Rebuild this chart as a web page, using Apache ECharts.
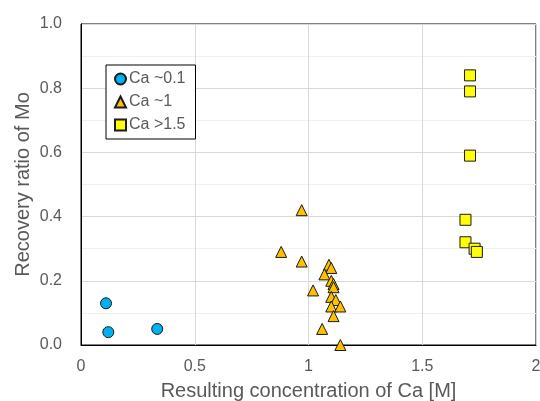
<!DOCTYPE html>
<html>
<head>
<meta charset="utf-8">
<script src="https://cdn.jsdelivr.net/npm/echarts@6/dist/echarts.min.js"></script>
<style>
  html, body { margin: 0; padding: 0; background: #fff; }
  #chart { width: 540px; height: 401px; }
</style>
</head>
<body>
<div id="chart"></div>
<script>
// Series names
const seriesNames = ['Ca ~0.1', 'Ca ~1', 'Ca >1.5'];

// Ca ~0.1 group
const lowCaX = [0.11, 0.12, 0.335];
const lowCaY = [0.13, 0.04, 0.05];

// Ca ~1 group
const midCaX = [0.97, 0.88, 0.97, 1.02, 1.09, 1.10, 1.07, 1.10, 1.11, 1.11, 1.10, 1.12, 1.10, 1.14, 1.11, 1.06, 1.14];
const midCaY = [0.42, 0.29, 0.26, 0.17, 0.25, 0.24, 0.22, 0.20, 0.19, 0.18, 0.15, 0.14, 0.12, 0.12, 0.09, 0.05, 0.00];

// Ca >1.5 group
const highCaX = [1.71, 1.71, 1.71, 1.69, 1.69, 1.73, 1.74];
const highCaY = [0.84, 0.79, 0.59, 0.39, 0.32, 0.30, 0.29];

// Axis ticks
const xTicks = [0, 0.5, 1, 1.5, 2];
const yTicks = [0.0, 0.2, 0.4, 0.6, 0.8, 1.0];

const pairs = (xs, ys) => xs.map((x, i) => [x, ys[i]]);

const textColor = '#595959';
const font = 'Liberation Sans, Arial, sans-serif';

const chart = echarts.init(document.getElementById('chart'), null, { renderer: 'canvas' });

const marker = (name, symbol, color, xs, ys) => ({
  name: name,
  type: 'scatter',
  symbol: symbol,
  symbolSize: 11,
  clip: false,
  data: pairs(xs, ys),
  itemStyle: { color: color, borderColor: '#1a1a1a', borderWidth: 1, opacity: 1 },
  emphasis: { disabled: true }
});

chart.setOption({
  animation: false,
  backgroundColor: '#ffffff',
  textStyle: { fontFamily: font },
  grid: {
    left: 81, right: 4, top: 24, bottom: 56,
    containLabel: false,
    outerBoundsMode: 'none',
    show: true, borderColor: '#000000', borderWidth: 1, backgroundColor: 'transparent'
  },
  legend: {
    orient: 'vertical',
    left: 106, top: 65,
    padding: [6, 10, 6, 8],
    itemGap: 7,
    itemWidth: 11, itemHeight: 11,
    borderColor: '#000000', borderWidth: 1,
    backgroundColor: '#ffffff',
    textStyle: { color: textColor, fontSize: 16, fontFamily: font, padding: [0, 0, 0, -2] },
    data: [
      { name: seriesNames[0], icon: 'circle' },
      { name: seriesNames[1], icon: 'triangle' },
      { name: seriesNames[2], icon: 'rect' }
    ]
  },
  xAxis: {
    type: 'value',
    min: xTicks[0], max: xTicks[xTicks.length - 1], interval: 0.5,
    name: 'Resulting concentration of Ca [M]',
    nameLocation: 'middle', nameGap: 36,
    nameMoveOverlap: false,
    nameTextStyle: { color: textColor, fontSize: 20, fontFamily: font },
    axisLine: { show: true, lineStyle: { color: '#000000', width: 1 } },
    axisTick: { show: false },
    axisLabel: { color: textColor, fontSize: 16, fontFamily: font, margin: 14,
      formatter: v => String(v) },
    splitLine: { show: true, lineStyle: { color: '#d9d9d9', width: 1 } }
  },
  yAxis: {
    type: 'value',
    min: yTicks[0], max: yTicks[yTicks.length - 1], interval: 0.2,
    name: 'Recovery ratio of Mo',
    nameLocation: 'middle', nameGap: 48,
    nameMoveOverlap: false,
    nameTextStyle: { color: textColor, fontSize: 20, fontFamily: font },
    axisLine: { show: true, lineStyle: { color: '#000000', width: 1 } },
    axisTick: { show: false },
    axisLabel: { color: textColor, fontSize: 16, fontFamily: font, margin: 19,
      formatter: v => v.toFixed(1) },
    splitLine: { show: true, lineStyle: { color: '#d9d9d9', width: 1 } },
    minorTick: { show: false, splitNumber: 2 },
    minorSplitLine: { show: true, lineStyle: { color: '#f0f0f0', width: 1 } }
  },
  series: [
    marker(seriesNames[0], 'circle', '#00b0f0', lowCaX, lowCaY),
    marker(seriesNames[1], 'triangle', '#ffc000', midCaX, midCaY),
    marker(seriesNames[2], 'rect', '#ffff00', highCaX, highCaY)
  ]
});
</script>
</body>
</html>
